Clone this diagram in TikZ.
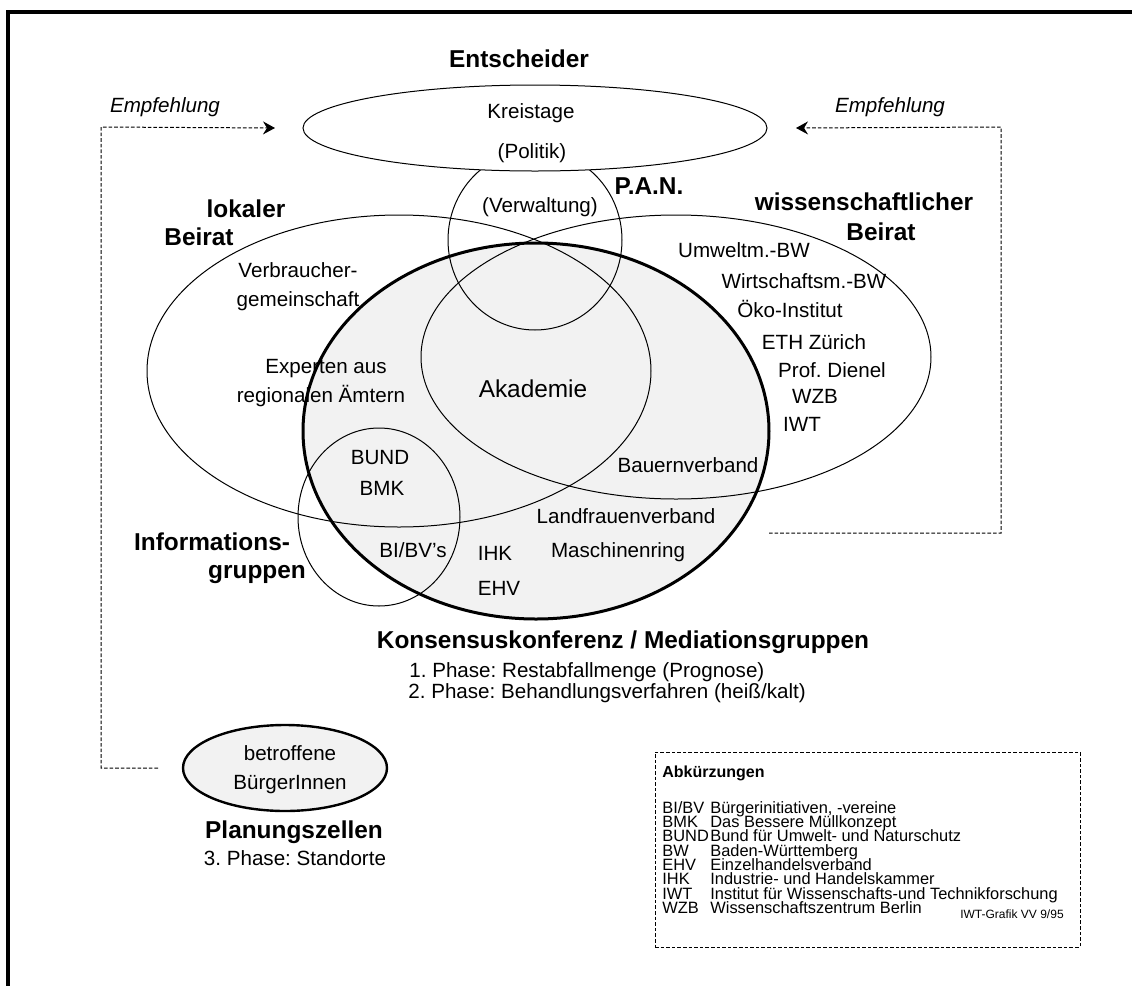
\documentclass[tikz,border=0pt]{standalone}
\usepackage{fontspec}
\setmainfont{Liberation Sans}
\usetikzlibrary{shapes.geometric, arrows.meta, positioning}
\frenchspacing

\tikzset{
  txt/.style={inner sep=0pt, text height=0.72em, text depth=0.2em,
              font=\fontsize{10.3}{12}\selectfont},
  hd/.style={txt, font=\fontsize{12.2}{14}\selectfont\bfseries},
  empftxt/.style={txt, font=\fontsize{10.3}{12}\selectfont\itshape},
  venn/.style={ellipse, draw, inner sep=0pt, outer sep=0pt, line width=0.5pt},
  empf/.style={-{Stealth[length=6pt,width=6.5pt,inset=2pt]}, line width=0.5pt,
               dash pattern=on 1.8pt off 1pt},
  legtxt/.style={txt, anchor=west, font=\fontsize{8.2}{9}\selectfont},
}

\begin{document}
\begin{tikzpicture}[x=0.5pt, y=-0.5pt]
  \useasboundingbox (0,0) rectangle (1132,986);
  \draw[line width=1.75pt] (8,986) -- (8,12) -- (1132,12);

  %% Ellipses (Konsensus first, filled)
  \node[venn, line width=1.5pt, fill=black!5,
        minimum width=233pt, minimum height=188pt] (kons) at (536,431) {};
  \node[venn, minimum width=252pt, minimum height=156pt] (lokal) at (399,371) {};
  \node[venn, minimum width=255pt, minimum height=142pt] (wiss)  at (676,357) {};
  \node[venn, minimum width=81pt,  minimum height=89pt]  (info)  at (379,517) {};
  \node[venn, minimum width=87pt,  minimum height=90pt]  (pan)   at (535,240) {};
  \node[venn, fill=white, minimum width=232pt, minimum height=43pt] (kreis) at (535,128) {};
  \node[venn, line width=1.2pt, fill=black!5,
        minimum width=102pt, minimum height=43pt] (buerger) at (285,768) {};

  %% Top: Entscheider
  \node[hd] (entsch) at (519,62) {Entscheider};
  \node[txt] (kreistage) at (531,113) {Kreistage};
  \node[txt] (politik)   at (532,153) {(Politik)};
  \node[txt] (verw)      at (540,207) {(Verwaltung)};
  \node[hd]  (panlbl)    at (649,189) {P.A.N.};
  \node[empftxt] (empfl) at (165,107) {Empfehlung};
  \node[empftxt] (empfr) at (890,107) {Empfehlung};

  %% lokaler Beirat
  \node[hd]  (lokaler) at (246,212) {lokaler};
  \node[hd]  (beiratl) at (199,240) {Beirat};
  \node[txt] (verbr)   at (298,272) {Verbraucher-};
  \node[txt] (gemein)  at (298,301) {gemeinschaft};
  \node[txt] (exp1)    at (326,368) {Experten aus};
  \node[txt] (exp2)    at (321,397) {regionalen Ämtern};
  \node[txt, font=\fontsize{12.2}{14}\selectfont] (akad) at (533,392) {Akademie};

  %% wissenschaftlicher Beirat
  \node[hd] (wisslbl) at (864,205) {wissenschaftlicher};
  \node[hd] (beiratw) at (881,235) {Beirat};
  \foreach \nm/\px/\py/\lbl in {umw/744/252/Umweltm.-BW, wirt/804/283/Wirtschaftsm.-BW,
      oeko/790/312/Öko-Institut, eth/814/344/ETH Zürich, dienel/832/372/Prof. Dienel,
      wzb/815/398/WZB, iwt/802/426/IWT}
    \node[txt] (\nm) at (\px,\py) {\lbl};

  %% Konsensuskonferenz
  \node[txt] (bauern) at (688,467) {Bauernverband};
  \node[txt] (bund)   at (380,459) {BUND};
  \node[txt] (bmk)    at (382,490) {BMK};
  \node[txt] (bibv)   at (413,552) {BI/BV's};
  \node[txt] (ihk)    at (495,555) {IHK};
  \node[txt] (ehv)    at (499,590) {EHV};
  \node[txt] (landfr) at (626,518) {Landfrauenverband};
  \node[txt] (masch)  at (618,552) {Maschinenring};
  \node[hd]  (info1)  at (212,545) {Informations-};
  \node[hd]  (info2)  at (257,573) {gruppen};
  \node[hd]  (konslbl) at (623,643) {Konsensuskonferenz / Mediationsgruppen};
  \node[txt, anchor=west] (phase1) at (409,672) {1. Phase: Restabfallmenge (Prognose)};
  \node[txt, anchor=west] (phase2) at (408,693) {2. Phase: Behandlungsverfahren (heiß/kalt)};

  %% Planungszellen
  \node[txt] (betr)   at (290,755) {betroffene};
  \node[txt] (bue)    at (290,784) {BürgerInnen};
  \node[hd]  (planz)  at (294,833) {Planungszellen};
  \node[txt] (phase3) at (295,860) {3. Phase: Standorte};

  %% Empfehlung arrows
  \coordinate (lcorn) at (101,127);
  \coordinate (rcorn) at (1001,127);
  \draw[empf] ([xshift=-12.5pt]buerger.west) -| (lcorn) -- ([xshift=-14pt]kreis.west);
  \draw[empf] ([shift={(0,102)}]kons.east) -| (rcorn) -- ([xshift=14.5pt]kreis.east);

  %% Legende
  \node[draw, dash pattern=on 1.8pt off 1pt, line width=0.5pt, inner sep=0pt,
        minimum width=212.5pt, minimum height=97.5pt] (legbox) at (867.5,849.5) {};
  \node[legtxt, font=\fontsize{8}{9}\selectfont\bfseries] (abk) at (662,772) {Abkürzungen};
  \foreach \ab/\desc [count=\i] in {{BI/BV}/{Bürgerinitiativen, -vereine},
      BMK/{Das Bessere Müllkonzept}, BUND/{Bund für Umwelt- und Naturschutz},
      BW/{Baden-Württemberg}, EHV/{Einzelhandelsverband},
      IHK/{Industrie- und Handelskammer},
      IWT/{Institut für Wissenschafts-und Technikforschung},
      WZB/{Wissenschaftszentrum Berlin}}
  {
    \node[legtxt] (ab\i) at (662,{793.7+14.3*\i}) {\ab};
    \node[legtxt] (de\i) at (710,{793.7+14.3*\i}) {\desc};
  }
  \node[legtxt, anchor=center, font=\fontsize{6}{7}\selectfont] (grafik) at (1012,913) {IWT-Grafik VV 9/95};
\end{tikzpicture}
\end{document}
